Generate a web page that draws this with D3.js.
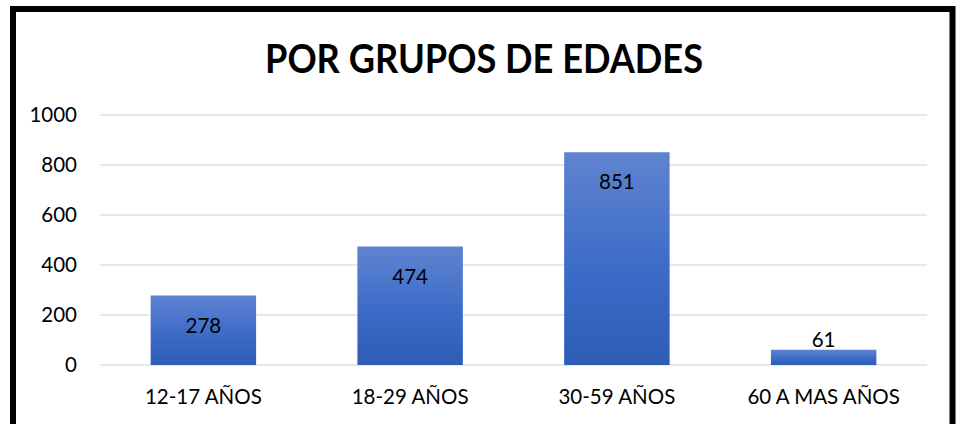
<!DOCTYPE html>
<html>
<head>
<meta charset="utf-8">
<script src="https://cdn.jsdelivr.net/npm/d3@7"></script>
<style>
body { margin: 0; background: #fff; }
text { font-family: Lato, "Liberation Sans", Arial, sans-serif; fill: #000; }
</style>
</head>
<body>
<div id="chart"></div>
<script>
// Data
var categories = ["12-17 AÑOS", "18-29 AÑOS", "30-59 AÑOS", "60 A MAS AÑOS"];
var values = [278, 474, 851, 61];
var yTicks = [0, 200, 400, 600, 800, 1000];
var title = "POR GRUPOS DE EDADES";

var cfg = {
	width: 957,
	height: 424,
	plotLeft: 100,
	plotRight: 927,
	plotTop: 115,
	plotBottom: 365
};

var svg = d3.select("#chart").append("svg")
	.attr("width", cfg.width)
	.attr("height", cfg.height);

// gradient for bars
var grad = svg.append("defs").append("linearGradient")
	.attr("id", "barGrad")
	.attr("x1", 0).attr("y1", 0).attr("x2", 0).attr("y2", 1);
grad.append("stop").attr("offset", "0%").attr("stop-color", "#5f84d0");
grad.append("stop").attr("offset", "55%").attr("stop-color", "#3c6bc8");
grad.append("stop").attr("offset", "100%").attr("stop-color", "#2e5db6");

// outer frame (bottom edge falls outside the picture)
svg.append("rect")
	.attr("x", 13).attr("y", 9)
	.attr("width", 939.5).attr("height", 440)
	.attr("fill", "none")
	.attr("stroke", "#000")
	.attr("stroke-width", 6);

var x = d3.scaleBand()
	.domain(categories)
	.range([cfg.plotLeft, cfg.plotRight])
	.paddingInner(0.49)
	.paddingOuter(0.245);

var y = d3.scaleLinear()
	.domain([0, 1000])
	.range([cfg.plotBottom, cfg.plotTop]);

// gridlines
svg.append("g").selectAll("line")
	.data(yTicks)
	.enter().append("line")
	.attr("x1", cfg.plotLeft)
	.attr("x2", cfg.plotRight)
	.attr("y1", function(d) { return y(d); })
	.attr("y2", function(d) { return y(d); })
	.attr("stroke", "#dde2ea")
	.attr("stroke-width", 1.5);

// y tick labels
svg.append("g").selectAll("text")
	.data(yTicks)
	.enter().append("text")
	.attr("x", 77)
	.attr("y", function(d) { return y(d); })
	.attr("dy", "0.36em")
	.attr("text-anchor", "end")
	.style("font-size", "20.5px")
	.text(function(d) { return d; });

// bars
svg.append("g").selectAll("rect")
	.data(values)
	.enter().append("rect")
	.attr("x", function(d, i) { return x(categories[i]); })
	.attr("y", function(d) { return y(d); })
	.attr("width", x.bandwidth())
	.attr("height", function(d) { return y(0) - y(d); })
	.attr("fill", "url(#barGrad)");

// value labels
svg.append("g").selectAll("text")
	.data(values)
	.enter().append("text")
	.attr("x", function(d, i) { return x(categories[i]) + x.bandwidth() / 2; })
	.attr("y", function(d) {
		return (y(0) - y(d) > 50) ? y(d) + 37 : y(d) - 3;
	})
	.attr("text-anchor", "middle")
	.style("font-size", "20.5px")
	.text(function(d) { return d; });

// category labels
svg.append("g").selectAll("text")
	.data(categories)
	.enter().append("text")
	.attr("x", function(d) { return x(d) + x.bandwidth() / 2; })
	.attr("y", 404)
	.attr("text-anchor", "middle")
	.style("font-size", "20.5px")
	.text(function(d) { return d; });

// title
svg.append("text")
	.attr("x", 484)
	.attr("y", 73)
	.attr("text-anchor", "middle")
	.attr("textLength", 438)
	.attr("lengthAdjust", "spacingAndGlyphs")
	.style("font-size", "41px")
	.style("font-weight", "bold")
	.text(title);
</script>
</body>
</html>
